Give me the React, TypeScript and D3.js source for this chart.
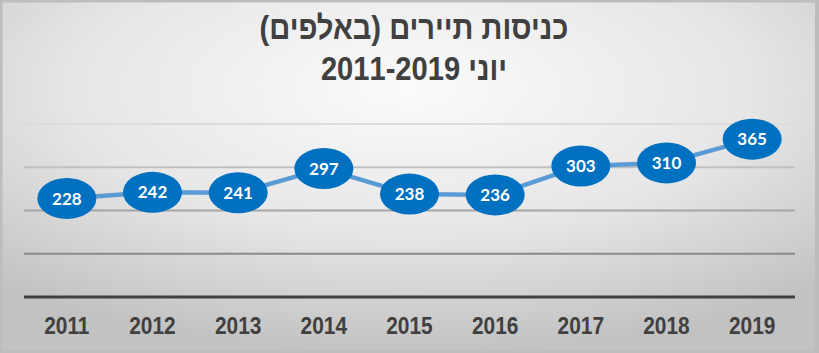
import React from "react";
import * as d3 from "d3";

const years = ["2011", "2012", "2013", "2014", "2015", "2016", "2017", "2018", "2019"];
const values = [228, 242, 241, 297, 238, 236, 303, 310, 365];
const yTicks = [0, 100, 200, 300, 400];
const titleLines = ["כניסות תיירים (באלפים)", "יוני 2011-2019"];

const W = 819;
const H = 353;

export default function App() {
  const x = d3.scaleBand<string>().domain(years).range([24, 795]);
  const y = d3.scaleLinear().domain([0, 400]).range([297, 124]);
  const cx = (d: string) => (x(d) as number) + x.bandwidth() / 2;
  const line = d3
    .line<number>()
    .x((_, i) => cx(years[i]))
    .y((v) => y(v));

  return (
    <svg
      width={W}
      height={H}
      style={{ position: "absolute", left: 0, top: 0 }}
      xmlns="http://www.w3.org/2000/svg"
    >
      <defs>
        <radialGradient id="bg" cx="50%" cy="25%" r="75%" fx="50%" fy="25%">
          <stop offset="0%" stopColor="#fbfbfb" />
          <stop offset="55%" stopColor="#e6e6e6" />
          <stop offset="100%" stopColor="#c2c2c2" />
        </radialGradient>
        <linearGradient id="gridG" gradientUnits="userSpaceOnUse" x1="0" y1="124" x2="0" y2="254">
          <stop offset="0%" stopColor="#dcdcdc" />
          <stop offset="100%" stopColor="#8a8a8a" />
        </linearGradient>
      </defs>
      <rect x={0} y={0} width={W} height={H} fill="url(#bg)" />
      <rect x={1} y={1} width={W - 2} height={H - 2} fill="none" stroke="#bdbdbd" strokeWidth={3} />
      <rect x={W - 4} y={0} width={4} height={H} fill="#bcbcbc" />

      {titleLines.map((t, i) => (
        <text
          key={i}
          transform={`translate(414, ${39 + i * 41}) scale(0.97, 1.1)`}
          textAnchor="middle"
          direction="rtl"
          fontFamily="'Liberation Sans', Arial, sans-serif"
          fontWeight="bold"
          fontSize={30}
          fill="#404040"
        >
          {t}
        </text>
      ))}

      {yTicks.slice(1).map((t) => (
        <line
          key={t}
          x1={24}
          x2={795}
          y1={y(t)}
          y2={y(t)}
          stroke="url(#gridG)"
          strokeWidth={2}
        />
      ))}
      <line x1={24} x2={795} y1={y(0)} y2={y(0)} stroke="#404040" strokeWidth={3} />

      {years.map((yr) => (
        <text
          key={yr}
          transform={`translate(${cx(yr)}, 334) scale(0.95, 1.1)`}
          textAnchor="middle"
          fontFamily="'Liberation Sans', Arial, sans-serif"
          fontWeight="bold"
          fontSize={22}
          fill="#404040"
        >
          {yr}
        </text>
      ))}

      <path d={line(values) || ""} fill="none" stroke="#5b9bd5" strokeWidth={4.5} strokeLinejoin="round" />

      {values.map((v, i) => (
        <g key={i}>
          <ellipse cx={cx(years[i])} cy={y(v)} rx={29.5} ry={20.5} fill="#0070c0" />
          <text
            x={cx(years[i])}
            y={y(v)}
            dy="0.36em"
            textAnchor="middle"
            fontFamily="Lato, 'Open Sans', sans-serif"
            fontWeight="bold"
            fontSize={17}
            fill="#ffffff"
          >
            {v}
          </text>
        </g>
      ))}
    </svg>
  );
}
